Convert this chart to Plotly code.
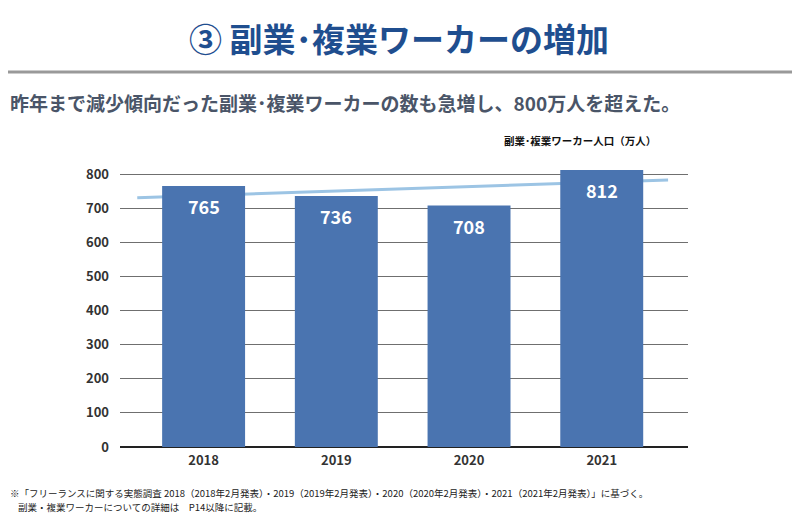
import plotly.graph_objects as go

years = ["2018", "2019", "2020", "2021"]
workers = [765, 736, 708, 812]
trend_x = [-0.5, 3.5]
trend_y = [731, 783]
y_ticks = [0, 100, 200, 300, 400, 500, 600, 700, 800]

FONT = "Noto Sans CJK JP"
BAR = "#4a74b0"

# page has an 8px body margin; figure drawn at 792x511 so it fills 800x519
OFF = 8
W, H = 800 - OFF, 519 - OFF
L, R, T, B = 120 - OFF, 688 - OFF, 169 - OFF, 447 - OFF
PW, PH = R - L, B - T


def px(x):
    return (x - OFF - L) / PW


def py(y):
    return (B - (y - OFF)) / PH


fig = go.Figure()
fig.add_trace(go.Bar(
    x=list(range(len(years))), y=workers, width=0.625,
    marker=dict(color=BAR, line=dict(width=0)),
    showlegend=False,
))
# trend line drawn between the gridlines and the bars, in data coordinates
fig.add_shape(
    type="line", xref="x", yref="y", layer="between",
    x0=trend_x[0], y0=trend_y[0], x1=trend_x[1], y1=trend_y[1],
    line=dict(color="#9cc4e4", width=3),
)
for i, v in enumerate(workers):
    fig.add_annotation(
        x=i, y=v, xref="x", yref="y", text=str(v), showarrow=False,
        yanchor="top", yshift=-5,
        font=dict(family=FONT, size=18, color="white", weight="bold"),
    )

fig.update_layout(
    width=W, height=H,
    margin=dict(l=L, r=W - R, t=T, b=H - B),
    paper_bgcolor="white", plot_bgcolor="white",
    font=dict(family=FONT),
    xaxis=dict(
        range=[-0.63, 3.65], tickmode="array",
        tickvals=list(range(len(years))), ticktext=years,
        tickfont=dict(family=FONT, size=13, color="#333333", weight="bold"),
        showgrid=False, zeroline=False, showline=False, ticks="",
        ticklabelstandoff=4,
    ),
    yaxis=dict(
        range=[0, 815], tickmode="array", tickvals=y_ticks,
        tickfont=dict(family=FONT, size=13, color="#333333", weight="bold"),
        showgrid=True, gridcolor="#6f6f6f", gridwidth=1,
        zeroline=True, zerolinecolor="#222222", zerolinewidth=2,
        ticks="", ticklabelstandoff=10,
    ),
    bargap=0.3,
)

fig.add_annotation(
    text="③ 副業･複業ワーカーの増加", xref="paper", yref="paper",
    x=px(399), y=py(38), xanchor="center", yanchor="middle",
    showarrow=False,
    font=dict(family=FONT, size=33, color="#1f4e8f", weight="bold"),
)
fig.add_shape(
    type="line", xref="paper", yref="paper",
    x0=px(0), x1=px(800), y0=py(72), y1=py(72),
    line=dict(color="#999999", width=3),
)
fig.add_annotation(
    text="昨年まで減少傾向だった副業･複業ワーカーの数も急増し、800万人を超えた。",
    xref="paper", yref="paper",
    x=px(8), y=py(103), xanchor="left", yanchor="middle",
    showarrow=False,
    font=dict(family=FONT, size=19, color="#4a5568", weight="bold"),
)
fig.add_annotation(
    text="副業･複業ワーカー人口（万人）", xref="paper", yref="paper",
    x=px(502), y=py(140), xanchor="left", yanchor="middle",
    showarrow=False,
    font=dict(family=FONT, size=10.5, color="#111111", weight="bold"),
)
fig.add_annotation(
    text="※「フリーランスに関する実態調査 2018（2018年2月発表）・2019（2019年2月発表）・2020（2020年2月発表）・2021（2021年2月発表）」に基づく。",
    xref="paper", yref="paper",
    x=px(8), y=py(493), xanchor="left", yanchor="middle",
    align="left", showarrow=False,
    font=dict(family=FONT, size=9.5, color="#222222"),
)
fig.add_annotation(
    text="副業・複業ワーカーについての詳細は　P14以降に記載。",
    xref="paper", yref="paper",
    x=px(16), y=py(507), xanchor="left", yanchor="middle",
    align="left", showarrow=False,
    font=dict(family=FONT, size=9.5, color="#222222"),
)

fig.write_html("out.html")
